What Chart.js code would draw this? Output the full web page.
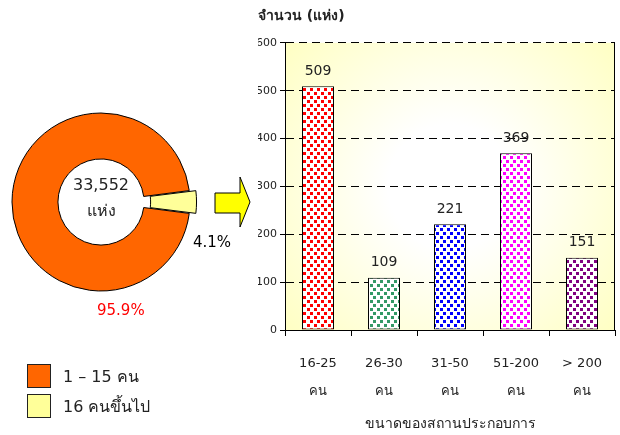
<!DOCTYPE html>
<html lang="th">
<head>
<meta charset="UTF-8">
<title>สถานประกอบการ</title>
<script src="https://cdn.jsdelivr.net/npm/chart.js"></script>
<style>
  body {margin:0; width:620px; height:435px; background:#fff; position:relative; overflow:hidden;
        font-family: Tahoma, "DejaVu Sans", sans-serif;}
  #pie {position:absolute; left:0; top:80px; width:240px; height:244px;}
  #bar {position:absolute; left:240px; top:0; width:380px; height:435px;}
  .lbl {position:absolute; font-size:15px; white-space:nowrap;}
  #legend {position:absolute; left:27px; top:361px; font-size:16px; color:#222;}
  #legend div {display:flex; align-items:center; height:30px;}
  #legend span.box {width:24px; height:24px; border:1px solid #222; margin-right:12px; box-sizing:border-box;}
  #arrow {position:absolute; left:210px; top:172px;}
</style>
</head>
<body>
<canvas id="pie" width="240" height="244"></canvas>
<canvas id="bar" width="380" height="435"></canvas>
<svg id="arrow" width="45" height="60">
  <polygon points="5,21 30,21 30,5 40,30 30,55 30,41 5,41" fill="#ffff00" stroke="#000" stroke-width="1"/>
</svg>
<div class="lbl" id="lblSmall" style="left:193px; top:233px;"></div>
<div class="lbl" id="lblBig" style="left:97px; top:301px; color:#ff0000;"></div>
<div id="legend"></div>

<script>
// สัดส่วนสถานประกอบการ
const pieLabels = ['1 – 15 คน', '16 คนขึ้นไป'];
const pieValues = [95.9, 4.1];
const pieColors = ['#ff6600', '#ffff99'];
const totalText = ['33,552', 'แห่ง'];

// จำนวนสถานประกอบการ 16 คนขึ้นไป
const barLabels = [['16-25', 'คน'], ['26-30', 'คน'], ['31-50', 'คน'], ['51-200', 'คน'], ['> 200', 'คน']];
const barValues = [509, 109, 221, 369, 151];
const barColors = ['#ff0000', '#339966', '#0000ff', '#ff00ff', '#800080'];

const FONT = 'Tahoma, "DejaVu Sans", sans-serif';
Chart.defaults.font.family = FONT;
Chart.defaults.color = '#222';

// ป้ายกำกับ
document.getElementById('lblSmall').textContent = pieValues[1].toFixed(1) + '%';
document.getElementById('lblBig').textContent = pieValues[0].toFixed(1) + '%';
document.getElementById('legend').innerHTML = pieLabels.map((l, i) =>
  `<div><span class="box" style="background:${pieColors[i]}"></span>${l}</div>`).join('');

// วงโดนัท
const yellowStart = 90 - pieValues[1] / 100 * 360 / 2;
const rot = yellowStart - pieValues[0] / 100 * 360;

const centerText = {
  id: 'centerText',
  afterDraw(c) {
    const arc = c.getDatasetMeta(0).data[0];
    const ctx = c.ctx;
    ctx.save();
    ctx.font = '16px ' + FONT;
    ctx.fillStyle = '#222';
    ctx.textAlign = 'center';
    ctx.textBaseline = 'middle';
    ctx.fillText(totalText[0], arc.x, arc.y - 16);
    ctx.fillText(totalText[1], arc.x, arc.y + 10);
    ctx.restore();
  }
};

new Chart(document.getElementById('pie'), {
  type: 'doughnut',
  data: {
    labels: pieLabels,
    datasets: [{
      data: pieValues,
      backgroundColor: pieColors,
      borderColor: '#000',
      borderWidth: 1,
      offset: [0, 15],
      hoverOffset: 0
    }]
  },
  options: {
    responsive: false,
    animation: false,
    rotation: rot,
    radius: 89,
    cutout: 45,
    layout: {padding: {right: 38}},
    plugins: {legend: {display: false}, tooltip: {enabled: false}}
  },
  plugins: [centerText]
});

// ลายจุด
function dots(color) {
  const t = document.createElement('canvas');
  t.width = 7; t.height = 8;
  const g = t.getContext('2d');
  g.fillStyle = '#fff';
  g.fillRect(0, 0, 7, 8);
  g.fillStyle = color;
  g.fillRect(0, 0, 3, 3);
  g.fillRect(4, 4, 3, 3);
  return g.createPattern(t, 'repeat');
}

const plotBg = {
  id: 'plotBg',
  beforeDraw(c) {
    const {ctx, chartArea: a} = c;
    const cx = (a.left + a.right) / 2, cy = (a.top + a.bottom) / 2;
    const gr = ctx.createRadialGradient(cx, cy, 0, cx, cy, Math.max(a.width, a.height) * 0.75);
    gr.addColorStop(0, '#ffffff');
    gr.addColorStop(0.25, '#ffffff');
    gr.addColorStop(1, '#ffffb8');
    ctx.save();
    ctx.fillStyle = gr;
    ctx.fillRect(a.left, a.top, a.width, a.height);
    ctx.restore();
  },
  afterDatasetsDraw(c) {
    const {ctx, chartArea: a} = c;
    ctx.save();
    ctx.strokeStyle = '#000';
    ctx.lineWidth = 1;
    ctx.beginPath();
    ctx.moveTo(Math.round(a.right) - 0.5, a.top);
    ctx.lineTo(Math.round(a.right) - 0.5, a.bottom);
    ctx.stroke();
    // ค่าบนแท่ง
    ctx.font = '14px ' + FONT;
    ctx.fillStyle = '#222';
    ctx.textAlign = 'center';
    ctx.textBaseline = 'bottom';
    c.getDatasetMeta(0).data.forEach((b, i) => {
      ctx.fillText(barValues[i], b.x, b.y - 8);
    });
    ctx.restore();
  }
};

new Chart(document.getElementById('bar'), {
  type: 'bar',
  data: {
    labels: barLabels,
    datasets: [{
      data: barValues,
      backgroundColor: barColors.map(dots),
      borderColor: '#000',
      borderWidth: 1,
      borderSkipped: false,
      barPercentage: 0.485,
      categoryPercentage: 1
    }]
  },
  options: {
    responsive: false,
    animation: false,
    layout: {padding: {left: 18, right: 5, top: 0, bottom: 0}},
    scales: {
      y: {
        min: 0, max: 600,
        ticks: {stepSize: 100, font: {size: 11}, padding: 3, color: '#222'},
        grid: {color: '#000', tickBorderDash: [], tickColor: '#000', tickLength: 5},
        border: {color: '#000', dash: [8, 5]},
        afterFit(s) { s.width = 27; }
      },
      x: {
        ticks: {font: {size: 13, lineHeight: 2.15}, padding: 14, color: '#222'},
        grid: {drawOnChartArea: false, tickColor: '#000', tickLength: 6, offset: true},
        border: {color: '#000'},
        title: {display: true, text: 'ขนาดของสถานประกอบการ', font: {size: 14}, color: '#222', padding: {top: 8, bottom: 2}},
        afterFit(s) { s.height = 105; }
      }
    },
    plugins: {
      legend: {display: false},
      tooltip: {enabled: false},
      title: {display: true, text: 'จำนวน (แห่ง)', align: 'start', font: {size: 14, weight: 'bold'}, color: '#222',
              padding: {top: 8, bottom: 18}}
    }
  },
  plugins: [plotBg]
});
</script>
</body>
</html>
